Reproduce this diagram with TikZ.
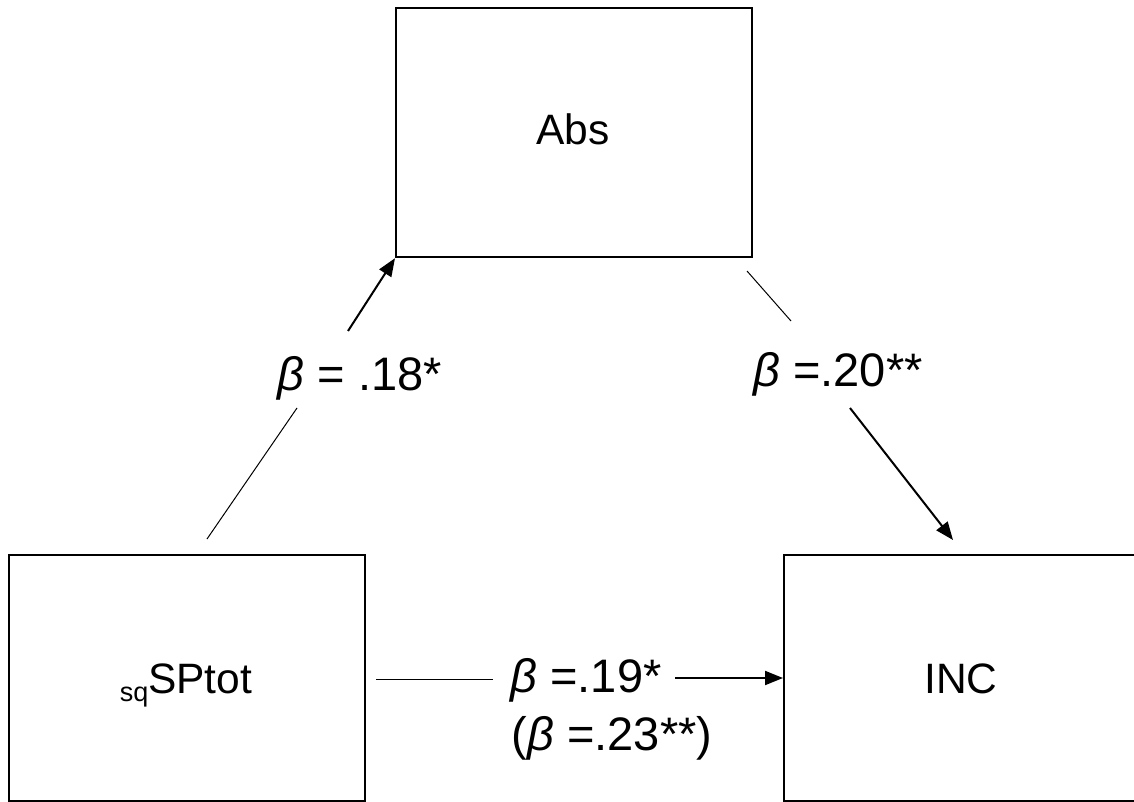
\documentclass[tikz,border=0pt]{standalone}
\usepackage{fontspec}
\setmainfont{Liberation Sans}
\usetikzlibrary{arrows.meta}
\begin{document}
\begin{tikzpicture}[x=1pt,y=-1pt,
  box/.style={draw, line width=2.2pt, anchor=north west, minimum width=356pt, minimum height=246pt, inner sep=0pt},
  boxtext/.style={font=\fontsize{42.5}{50}\selectfont, inner sep=0pt, anchor=base},
  lab/.style={font=\fontsize{47}{56}\selectfont, inner sep=0pt, anchor=base},
  thinln/.style={line width=1pt},
  arr/.style={line width=2pt, -{Triangle[length=18pt,width=14pt]}}]
\clip (0,0) rectangle (1134,802);
\fill[white] (0,0) rectangle (1134,802);
% boxes
\node[box, minimum height=249pt] (abs) at (395,7) {};
\node[box] (sq) at (8,554) {};
\node[box] (inc) at (783,554) {};
\node[boxtext] (abst) at (573,145) {Abs};
\node[boxtext] (sqt) at (186,693) {\raisebox{-0.2em}{\fontsize{27}{32}\selectfont sq}SPtot};
\node[boxtext] (inct) at (961,693) {INC};
% labels
\node[lab] (l1) at (360,390) {\textit{β} = .18*};
\node[lab] (l2) at (838,386) {\textit{β} =.20**};
\node[lab] (l3) at (586,692) {\textit{β} =.19*};
\node[lab] (l4) at (612,750) {(\textit{β} =.23**)};
% connector endpoints
\coordinate (a1) at (207,539);
\coordinate (a2) at (297,408);
\coordinate (a3) at (348,331);
\coordinate (b1) at (747,271);
\coordinate (b2) at (791,321);
\coordinate (b3) at (850,408);
\coordinate (b4) at (953,540);
\coordinate (c1) at (376,679);
\coordinate (c2) at (493,679);
\coordinate (c3) at (675,678);
% connectors
\draw[thinln] (a1) -- (a2);
\draw[arr] (a3) -- (abs.south west);
\draw[thinln] (b1) -- (b2);
\draw[arr] (b3) -- (b4);
\draw[thinln] (c1) -- (c2);
\draw[arr] (c3) -- (c3 -| inc.west);
\end{tikzpicture}
\end{document}
